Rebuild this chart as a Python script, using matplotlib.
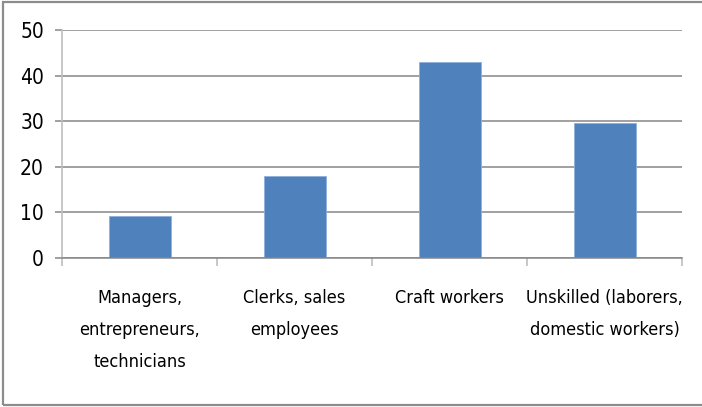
import matplotlib
matplotlib.use('Agg')
import matplotlib.pyplot as plt
from matplotlib.patches import Rectangle

plt.rcParams['font.family'] = ['DejaVu Sans']
plt.rcParams['font.stretch'] = 'condensed'

# occupation groups and their shares
categories = ['Managers,\nentrepreneurs,\ntechnicians',
              'Clerks, sales\nemployees',
              'Craft workers',
              'Unskilled (laborers,\ndomestic workers)']
values = [9.3, 18.0, 43.0, 29.6]
yticks = [0, 10, 20, 30, 40, 50]

fig = plt.figure(figsize=(7.02, 4.07), dpi=100)
ax = fig.add_axes([62 / 702, 1 - 258 / 407, 620 / 702, 228 / 407])

x = list(range(len(categories)))
ax.bar(x, values, width=0.4, color='#4F81BD', edgecolor='#8DB0DA', linewidth=0.6, zorder=3)

ax.set_xlim(-0.5, len(categories) - 0.5)
ax.set_ylim(0, 50)
ax.set_yticks(yticks)
ax.set_yticklabels([str(v) for v in yticks], fontsize=15, fontstretch='condensed')
ax.yaxis.grid(True, color='#868686', linewidth=1.1, zorder=0)

# category labels under the bars, separators between categories
ax.set_xticks(x)
ax.set_xticklabels(categories, fontsize=13, fontstretch='condensed', linespacing=2.0, va='top')
ax.tick_params(axis='x', length=0, pad=22)
ax.set_xticks([i - 0.5 for i in range(len(categories) + 1)], minor=True)
ax.tick_params(axis='x', which='minor', length=6, color='#BFBFBF', width=1.2)
ax.tick_params(axis='y', length=5, color='#868686', width=1.1, pad=8)

for side in ['top', 'right']:
    ax.spines[side].set_visible(False)
ax.spines['left'].set_color('#BFBFBF')
ax.spines['left'].set_linewidth(1.2)
ax.spines['bottom'].set_color('#868686')
ax.spines['bottom'].set_linewidth(1.1)
ax.spines['bottom'].set_zorder(4)

# outer chart frame
fig.patches.append(Rectangle((3 / 702, 2 / 407), 1.0, 403 / 407, transform=fig.transFigure,
                             fill=False, edgecolor='#8C8C8C', linewidth=1.6))

fig.savefig('out.png', dpi=100)
